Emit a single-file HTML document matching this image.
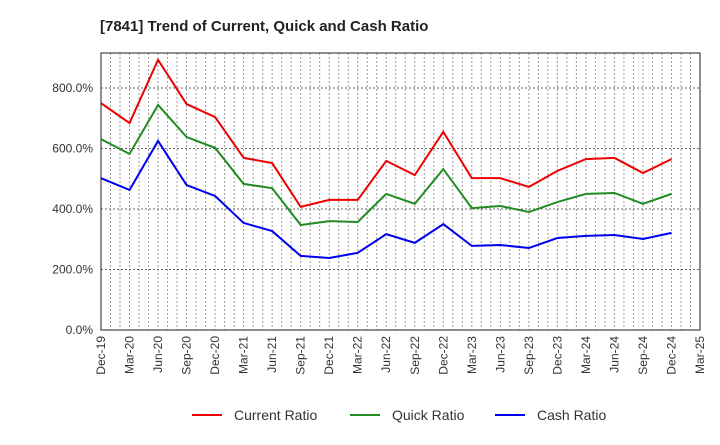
<!DOCTYPE html>
<html><head><meta charset="utf-8"><style>
body{margin:0;background:#fff;font-family:"Liberation Sans",sans-serif}
</style></head><body>
<svg id="c" width="720" height="440" xmlns="http://www.w3.org/2000/svg">
<text x="100" y="31" font-size="15" font-weight="bold" fill="#222">[7841]  Trend of Current, Quick and Cash Ratio</text>
<g id="grid"></g><g id="axes"></g><g id="series"></g><g id="legend"></g>
</svg>
<script>
const categories=["Dec-19","Mar-20","Jun-20","Sep-20","Dec-20","Mar-21","Jun-21","Sep-21","Dec-21","Mar-22","Jun-22","Sep-22","Dec-22","Mar-23","Jun-23","Sep-23","Dec-23","Mar-24","Jun-24","Sep-24","Dec-24","Mar-25"];
const currentRatio=[750,684,893,747,704,569,552,407,430,430,559,512,655,502,502,473,526,565,569,519,565];
const quickRatio=[631,582,744,638,602,483,469,347,360,357,450,417,532,403,410,390,423,450,453,417,450];
const cashRatio=[502,463,625,479,443,354,327,245,238,255,317,288,350,278,281,271,304,311,314,301,321];
const yTicks=[0,200,400,600,800];
const yTickLabels=["0.0%","200.0%","400.0%","600.0%","800.0%"];
const NS="http://www.w3.org/2000/svg";
const L=101,R=700,T=53,B=330;
const xs=i=>L+(R-L)*i/(3*(categories.length-1))*3;
const xm=m=>L+(R-L)*m/(3*(categories.length-1));
const ys=v=>B-(B-88)*v/800;
function mk(tag,attrs,parent){const e=document.createElementNS(NS,tag);for(const k in attrs)e.setAttribute(k,attrs[k]);document.getElementById(parent).appendChild(e);return e;}
// monthly vertical grid
for(let m=1;m<3*(categories.length-1);m++){
 const g=mk('line',{x1:xm(m),x2:xm(m),y1:T,y2:B,stroke:'#999','stroke-dasharray':'2,2','stroke-width':1},'grid');
 
 
}
yTicks.forEach((v,i)=>{
 if(v>0){const g=mk('line',{x1:L,x2:R,y1:ys(v),y2:ys(v),stroke:'#666','stroke-dasharray':'2,2','stroke-width':1},'grid');
 
 }
 const t=mk('text',{x:L-8,y:ys(v)+4,'text-anchor':'end','font-size':12,fill:'#333'},'axes');
 t.textContent=yTickLabels[i];
 
 
});
const box=mk('rect',{x:L,y:T,width:R-L,height:B-T,fill:'none',stroke:'#444','stroke-width':1.2},'axes');


categories.forEach((c,i)=>{
 const x=xs(i);
 const t=mk('text',{x:x+4,y:B+6,'text-anchor':'end','font-size':12,fill:'#333',transform:`rotate(-90 ${x+4} ${B+6})`},'axes');
 t.textContent=c;
 
 
});
const series=[["current-ratio-line",currentRatio,"#ee0000"],["quick-ratio-line",quickRatio,"#228b22"],["cash-ratio-line",cashRatio,"#0000ee"]];
series.forEach(([n,d,col])=>{
 const p=mk('polyline',{points:d.map((v,i)=>xs(i)+','+ys(v)).join(' '),fill:'none',stroke:col,'stroke-width':2},'series');
 
 
});
const leg=[["Current Ratio","#ee0000",192],["Quick Ratio","#228b22",350],["Cash Ratio","#0000ee",495]];
leg.forEach(([lab,col,x])=>{
 const l=mk('line',{x1:x,x2:x+30,y1:415,y2:415,stroke:col,'stroke-width':2},'legend');
 
 
 const t=mk('text',{x:x+42,y:420,'font-size':14,fill:'#333'},'legend');
 t.textContent=lab;
 
 
});
</script>
</body></html>
